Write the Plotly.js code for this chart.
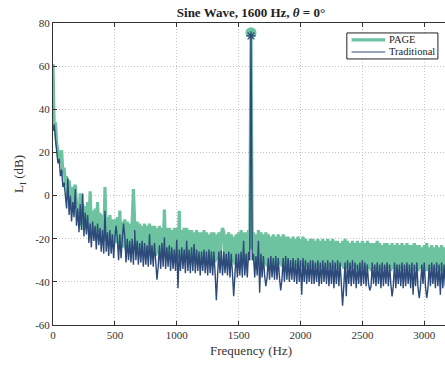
<!DOCTYPE html>
<html>
<head>
<meta charset="utf-8">
<script src="https://cdn.plot.ly/plotly-3.0.1.min.js"></script>
<style>
html,body{margin:0;padding:0;overflow:hidden;background:#fff;}
#chart{width:460px;height:365px;}
</style>
</head>
<body>
<div id="chart"></div>
<script>
// Frequency bins (Hz): start and spacing
const freqStart = 0;
const freqStep = 10;

// PAGE spectrum, dB, one value per 10 Hz bin (0 .. 3200 Hz)
const pageLevels = [
 61, 30, 34, 24, 21, 15, 18, 21, 10, 13,
 5, 9, -2, 7, 0, 4, -6, 3, 5, -4,
 -3, -12, 1, -14, -4, -16, -5, -13, -3, -15,
 2, -17, -7, -18, -6, -19, -3, -17, -8, -20,
 -9, -21, 4, -20, -10, -22, -9, -21, -11, -23,
 -11, -22, -10, -24, -7, -23, -12, -24, -11, -25,
 -12, -24, -13, -25, -12, 3, -13, -26, -12, -25,
 -13, -26, -14, -27, -13, -26, -14, -27, -13, -28,
 -14, -27, -14, -28, -15, -27, -14, -28, -15, -28,
 -6.5, -28, -15, -29, -15, -28, -16, -29, -15, -29,
 -15, -29, -7, -30, -16, -29, -15, -30, -15, -29,
 -16, -30, -16, -29, -17, -30, -16, -30, -17, -31,
 -17, -30, -16, -31, -17, -30, -18, -31, -17, -31,
 -17, -31, -18, -30, -17, -31, -18, -15, -17, -31,
 -18, -31, -17, -32, -18, -31, -19, -32, -18, -31,
 -17, -32, -16, -31, -17, -32, -17, -31, -16, -25,
 75.5, -25, -17, -32, -18, -31, -16, -32, -17, -32,
 -18, -32, -17, -33, -18, -32, -19, -33, -18, -32,
 -19, -33, -18, -32, -19, -33, -18, -33, -19, -32,
 -19, -33, -20, -32, -19, -33, -20, -33, -19, -34,
 -20, -33, -19, -34, -20, -33, -21, -34, -20, -33,
 -20, -34, -21, -33, -20, -34, -21, -33, -20, -34,
 -21, -34, -20, -33, -21, -34, -20, -34, -21, -33,
 -21, -34, -22, -33, -21, -34, -20, -34, -21, -33,
 -22, -34, -21, -33, -22, -34, -21, -35, -22, -34,
 -21, -34, -22, -35, -21, -34, -22, -35, -22, -34,
 -22, -35, -21, -34, -22, -35, -23, -34, -22, -35,
 -22, -34, -23, -35, -22, -34, -23, -35, -22, -35,
 -23, -34, -22, -35, -23, -35, -22, -34, -23, -35,
 -23, -35, -22, -34, -23, -35, -23, -34, -24, -35,
 -23, -35, -22, -35, -24, -34, -23, -35, -24, -35,
 -23, -34, -24, -35, -23, -35, -24, -34, -23, -35,
 -24
];

// Traditional spectrum, dB, same bins
const tradLevels = [
 30, 33, 26, 20, 15, 17, 9, 12, 4, 6,
 1, -6, 8, -9, 0, -12, -3, -10, 3, -14,
 -6, -17, -4, -16, 1, -19, -8, -18, -9, -22,
 -13, -24, -12, -21, -14, -25, -13, -23, -15, -26,
 -16, -27, -7, -26, -17, -28, -16, -27, -18, -29,
 -19, -14, -20, -30, -18, -29, -20, -13, -19, -31,
 -20, -30, -21, -31, -20, -32, -16, -30, -21, -32,
 -22, -31, -21, -33, -22, -32, -23, -33, -18, -32,
 -23, -33, -22, -34, -39, -33, -23, -34, -22, -33,
 -19.5, -34, -24, -33, -23, -35, -24, -34, -25, -35,
 -20.5, -43, -25, -35, -24, -34, -25, -36, -21, -35,
 -25, -36, -24, -35, -22.5, -36, -25, -35, -26, -37,
 -26, -35, -25, -36, -26, -37, -25, -36, -26, -37,
 -26, -36, -48.5, -37, -26, -36, -25.5, -37, -26, -36,
 -27, -37, -26, -38, -27, -36, -46.7, -37, -27, -38,
 -27, -37, -26, -38, -21, -37, -27, -38, -26, -30,
 74, -30, -27, -38, -28, -37, -21, -45, -27, -38,
 -28, -37, -42, -38, -29, -39, -28, -38, -29, -39,
 -28, -39, -29, -38, -44, -39, -29, -40, -28, -39,
 -29, -40, -30, -39, -29, -40, -30, -41, -29, -40,
 -30, -46, -29, -40, -30, -41, -31, -40, -30, -41,
 -30, -41, -31, -40, -30, -42, -31, -41, -30, -40,
 -31, -41, -30, -42, -31, -41, -30, -43, -31, -41,
 -30, -42, -31, -41, -51, -42, -31, -46.7, -30, -41,
 -31, -42, -30, -41, -31, -43, -32, -41, -31, -42,
 -30, -41, -31, -42, -32, -41, -44, -42, -31, -41,
 -32, -42, -31, -41, -32, -43, -31, -42, -32, -41,
 -31, -42, -32, -41, -46.7, -42, -31, -43, -32, -41,
 -32, -42, -31, -43, -32, -42, -31, -41, -32, -43,
 -31, -46, -32, -42, -31, -43, -47.5, -42, -32, -41,
 -31, -42, -47.5, -43, -32, -42, -31, -41, -32, -43,
 -31, -42, -32, -46, -31, -43, -32, -42, -31, -41,
 -32
];

// Peak markers at the tone frequency
const peakFreq = [1600];
const pagePeak = [75.5];
const tradPeak = [74];

// Axis ticks
const xTickVals = [0, 500, 1000, 1500, 2000, 2500, 3000];
const xTickText = ['0', '500', '1000', '1500', '2000', '2500', '3000'];
const yTickVals = [-60, -40, -20, 0, 20, 40, 60, 80];
const yTickText = ['-60', '-40', '-20', '0', '20', '40', '60', '80'];

const seriesNames = ['PAGE', 'Traditional'];

const green = '#6dc29f';
const blue = '#2c4a7a';
const serif = 'Liberation Serif, Times New Roman, serif';

const traces = [
  {
    type: 'scatter', mode: 'lines', name: seriesNames[0], showlegend: false,
    x0: freqStart, dx: freqStep, y: pageLevels,
    line: {color: green, width: 3.2}
  },
  {
    type: 'scatter', mode: 'lines', name: seriesNames[1], showlegend: false,
    x0: freqStart, dx: freqStep, y: tradLevels,
    line: {color: blue, width: 1.4}
  },
  {
    type: 'scatter', mode: 'markers', showlegend: false,
    x: peakFreq, y: pagePeak,
    marker: {color: green, size: 11, symbol: 'circle'}
  },
  {
    type: 'scatter', mode: 'markers', showlegend: false,
    x: peakFreq, y: tradPeak,
    marker: {color: blue, size: 8, symbol: 'asterisk-open', line: {color: blue, width: 1.3}}
  }
];

const axisCommon = {
  showline: true, linecolor: '#333', linewidth: 1, mirror: 'ticks',
  ticks: 'inside', ticklen: 4, tickcolor: '#333',
  showgrid: true, gridcolor: '#c4c4c4', griddash: '1px,2px', gridwidth: 1,
  zeroline: false,
  tickfont: {family: serif, size: 11, color: '#333'}
};

// Compact legend box (paper coordinates of the plot area)
const legendBox = {x0: 0.742, x1: 0.972, y0: 0.881, y1: 0.967};
const legendRows = [0.944, 0.904];

const shapes = [
  {type: 'rect', xref: 'paper', yref: 'paper', x0: legendBox.x0, x1: legendBox.x1,
   y0: legendBox.y0, y1: legendBox.y1, fillcolor: '#fff', line: {color: '#222', width: 1}},
  {type: 'line', xref: 'paper', yref: 'paper', x0: 0.754, x1: 0.839,
   y0: legendRows[0], y1: legendRows[0], line: {color: green, width: 3.2}},
  {type: 'line', xref: 'paper', yref: 'paper', x0: 0.754, x1: 0.839,
   y0: legendRows[1], y1: legendRows[1], line: {color: blue, width: 1.2}}
];

const annotations = seriesNames.map((name, i) => ({
  xref: 'paper', yref: 'paper', x: 0.845, y: legendRows[i],
  xanchor: 'left', yanchor: 'middle', showarrow: false, text: name, borderpad: 0,
  font: {family: serif, size: 10.5, color: '#222'}
}));

const layout = {
  width: 460, height: 365,
  margin: {l: 53, r: 11, t: 23, b: 40},
  paper_bgcolor: '#fff', plot_bgcolor: '#fff',
  showlegend: false,
  title: {
    text: '<b>Sine Wave, 1600 Hz, <i>θ</i> = 0°</b>',
    font: {family: serif, size: 13, color: '#222'},
    x: 0.5, xref: 'paper', y: 0.967, yref: 'container', yanchor: 'middle'
  },
  xaxis: Object.assign({}, axisCommon, {
    range: [0, 3200], tickmode: 'array', tickvals: xTickVals, ticktext: xTickText,
    title: {text: 'Frequency (Hz)', font: {family: serif, size: 13, color: '#333'}, standoff: 5}
  }),
  yaxis: Object.assign({}, axisCommon, {
    range: [-60, 80], tickmode: 'array', tickvals: yTickVals, ticktext: yTickText,
    title: {text: 'L<sub>I</sub> (dB)', font: {family: serif, size: 13, color: '#333'}, standoff: 8}
  }),
  shapes: shapes,
  annotations: annotations
};

Plotly.newPlot('chart', traces, layout, {displayModeBar: false, staticPlot: true});
</script>
</body>
</html>
